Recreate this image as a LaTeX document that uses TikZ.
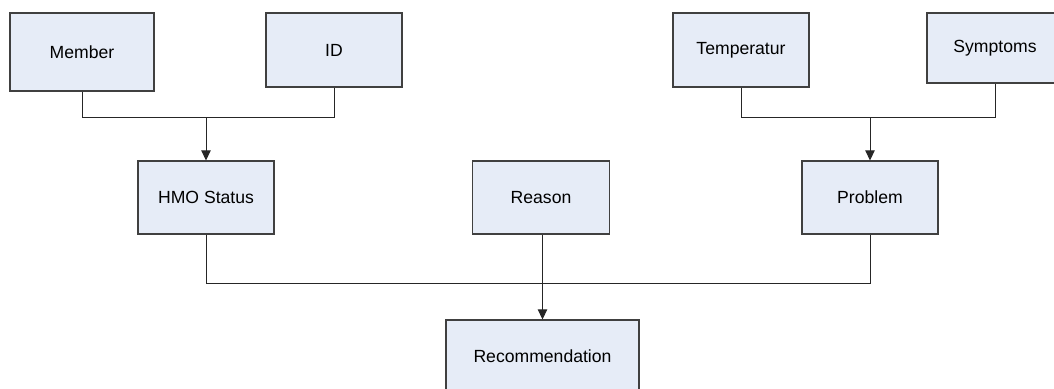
\documentclass[tikz,border=0pt]{standalone}
\usepackage{fontspec}
\setmainfont{Liberation Sans}
\usetikzlibrary{arrows.meta}
\definecolor{boxfill}{HTML}{E6ECF7}
\definecolor{boxline}{HTML}{404040}
\tikzset{
  box/.style={draw=boxline, fill=boxfill, line width=0.8pt, rectangle, inner sep=0pt,
    font=\fontsize{13.2}{15}\selectfont},
  conn/.style={draw=black!85, line width=0.75pt},
  arr/.style={conn, -{Triangle[length=7.5pt, width=7pt]}}
}
\begin{document}
\begin{tikzpicture}[x=0.75pt, y=-0.75pt]
\useasboundingbox (0,0) rectangle (1054,389);
\clip (0,0) rectangle (1054,389);
\node[box, minimum width=108pt, minimum height=58.5pt] (member) at (82,52) {Member};
\node[box, minimum width=102pt, minimum height=55.5pt] (id) at (334,50) {ID};
\node[box, minimum width=102pt, minimum height=55.5pt] (temp) at (741,50) {Temperatur};
\node[box, minimum width=102pt, minimum height=52.5pt] (sympt) at (995,48) {Symptoms};
\node[box, minimum width=102pt, minimum height=54.75pt] (hmo) at (206,197.5) {HMO Status};
\node[box, minimum width=102.75pt, minimum height=54.75pt] (reason) at (541,197.5) {Reason};
\node[box, minimum width=102pt, minimum height=54.75pt] (problem) at (870,197.5) {Problem};
\node[box, minimum width=144.75pt, minimum height=54pt] (rec) at (542.5,356) {Recommendation};
\coordinate (top) at (0,117);
\coordinate (bus) at (0,283);
% top left group
\draw[conn] (member.south) |- (id.south |- top) -- (id.south);
\draw[arr] (hmo.north |- top) -- (hmo.north);
% top right group
\draw[conn] (temp.south) |- (sympt.south |- top) -- (sympt.south);
\draw[arr] (problem.north |- top) -- (problem.north);
% bottom group
\draw[conn] (hmo.south) |- (problem.south |- bus) -- (problem.south);
\draw[arr] (rec.north |- reason.south) -- (rec.north);
\end{tikzpicture}
\end{document}
